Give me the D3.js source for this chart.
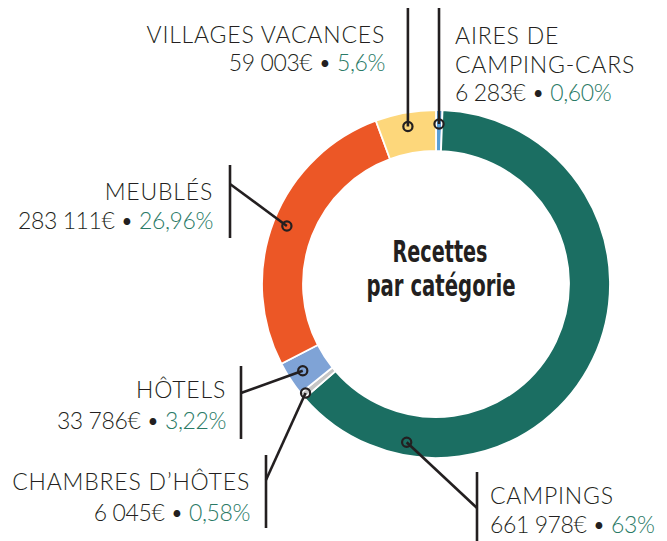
<!DOCTYPE html>
<html>
<head>
<meta charset="utf-8">
<script src="https://cdn.jsdelivr.net/npm/d3@7"></script>
<style>
  body { margin: 0; background: #fff; }
  .label { font-family: Lato, "Open Sans", sans-serif; font-weight: 300; font-size: 23px; fill: #231f20; }
  .name { letter-spacing: 0.8px; }
  .value { letter-spacing: -0.4px; }
  .pct { fill: #2a7a66; }
  .title { font-family: "Liberation Sans Narrow", "DejaVu Sans Condensed", sans-serif; font-weight: bold; font-size: 31px; fill: #231f20; }
  .lead { stroke: #231f20; stroke-width: 2.6; fill: none; }
</style>
</head>
<body>
<script>
// categories, clockwise from the top
var categories = ["Aires de camping-cars", "Campings", "Chambres d'hôtes", "Hôtels", "Meublés", "Villages vacances"];
var recettes = [6283, 661978, 6045, 33786, 283111, 59003]; // euros
var parts = ["0,60%", "63%", "0,58%", "3,22%", "26,96%", "5,6%"];
var labelNames = [["AIRES DE", "CAMPING-CARS"], ["CAMPINGS"], ["CHAMBRES D\u2019HÔTES"], ["HÔTELS"], ["MEUBLÉS"], ["VILLAGES VACANCES"]];
var colors = ["#5a9fd6", "#1b6e62", "#c6c6c6", "#7fa3d6", "#ec5726", "#fdd77b"];

// label placement (layout only)
var labelLayout = [
    {t: 0.5, r: 160, top: true, anchor: "start", x: 455, y: [44, 73, 101]},
    {t: 0.83, r: 161, elbow: [477, 508], bar: [472, 541], anchor: "start", x: 490, y: [504, 533]},
    {t: 0.5, r: 170, elbow: [266, 480], bar: [455, 528], anchor: "end", x: 250, y: [490, 521]},
    {t: 0.5, r: 159, elbow: [241, 393], bar: [366, 439], anchor: "end", x: 226, y: [398, 429]},
    {t: 0.5, r: 160, elbow: [230, 184], bar: [165, 238], anchor: "end", x: 213, y: [200, 229]},
    {t: 0.5, r: 160, top: true, anchor: "end", x: 385, y: [43, 71]}
];

var width = 667, height = 541;
var cx = 436, cy = 284, outerR = 174, innerR = 133;

var fr = d3.formatLocale({decimal: ",", thousands: " ", grouping: [3], currency: ["", "€"]});
var fmt = fr.format(",");

var svg = d3.select("body").append("svg")
    .attr("width", width)
    .attr("height", height);

var pie = d3.pie().sort(null).value(function(d){ return d; });
var arcs = pie(recettes);

var arc = d3.arc().innerRadius(innerR).outerRadius(outerR);

var ring = svg.append("g").attr("transform", "translate(" + cx + "," + cy + ")");
ring.selectAll("path")
    .data(arcs)
    .enter()
    .append("path")
    .attr("d", arc)
    .attr("fill", function(d, i){ return colors[i]; })
    .attr("stroke", "#fff")
    .attr("stroke-width", 1.8);

//centre title
svg.append("text").attr("class", "title")
    .attr("x", cx + 4).attr("y", 262).attr("text-anchor", "middle")
    .attr("textLength", 95).attr("lengthAdjust", "spacingAndGlyphs")
    .text("Recettes");
svg.append("text").attr("class", "title")
    .attr("x", cx + 5).attr("y", 296).attr("text-anchor", "middle")
    .attr("textLength", 149).attr("lengthAdjust", "spacingAndGlyphs")
    .text("par catégorie");

//leader lines and labels
arcs.forEach(function(d, i){
    var L = labelLayout[i];
    var a = d.startAngle + (d.endAngle - d.startAngle) * L.t;
    var mx = cx + L.r * Math.sin(a), my = cy - L.r * Math.cos(a);
    var g = svg.append("g");

    if (L.top){
        g.append("line").attr("class", "lead")
            .attr("x1", mx).attr("y1", 8).attr("x2", mx).attr("y2", my);
    } else {
        g.append("line").attr("class", "lead")
            .attr("x1", L.elbow[0]).attr("y1", L.elbow[1]).attr("x2", mx).attr("y2", my);
        g.append("line").attr("class", "lead")
            .attr("x1", L.elbow[0]).attr("y1", L.bar[0]).attr("x2", L.elbow[0]).attr("y2", L.bar[1]);
    }
    g.append("circle")
        .attr("cx", mx).attr("cy", my).attr("r", 4.6)
        .attr("fill", "none").attr("stroke", "#231f20").attr("stroke-width", 2.2);

    var rows = labelNames[i];
    rows.forEach(function(row, k){
        g.append("text").attr("class", "label name")
            .attr("x", L.x).attr("y", L.y[k])
            .attr("text-anchor", L.anchor)
            .text(row);
    });
    var t = g.append("text").attr("class", "label value")
        .attr("x", L.x).attr("y", L.y[rows.length])
        .attr("text-anchor", L.anchor);
    t.append("tspan").text(fmt(recettes[i]) + "€ \u2022 ");
    t.append("tspan").attr("class", "pct").text(parts[i]);
});
</script>
</body>
</html>
